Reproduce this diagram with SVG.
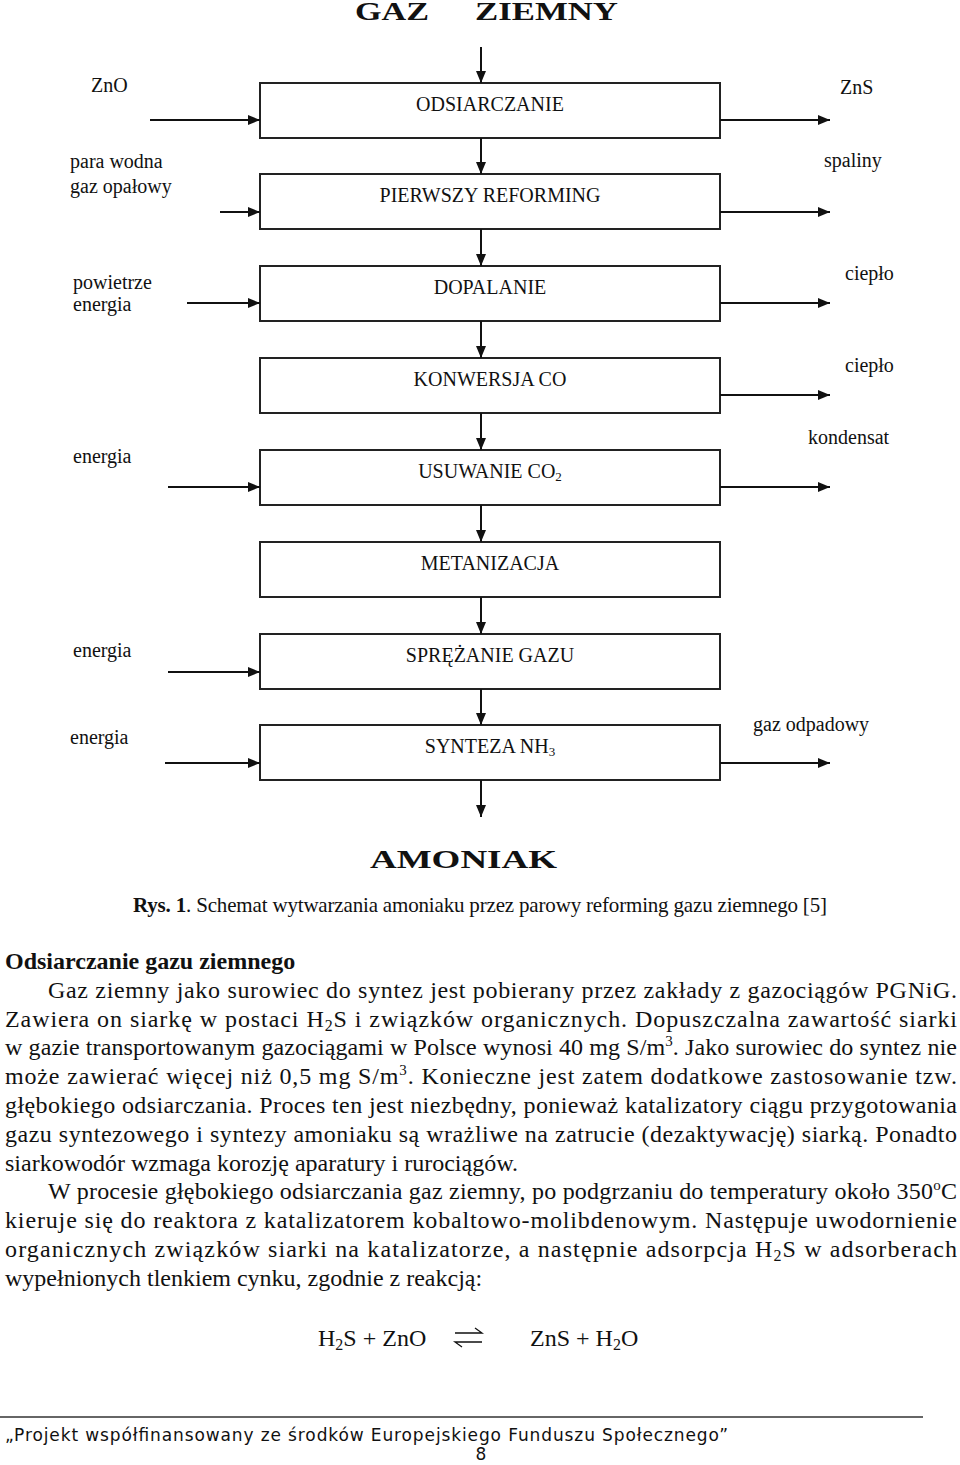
<svg xmlns="http://www.w3.org/2000/svg" width="960" height="1465" viewBox="0 0 960 1465">
<style>
.bg{fill:#fff}
.box{fill:#fff;stroke:#222;stroke-width:2}
.ln{stroke:#111;stroke-width:2;fill:none}
.lbl{font-family:"Liberation Serif","Times New Roman",serif;font-size:20px;fill:#111}
.ctr{text-anchor:middle}
.big{font-family:"Liberation Serif","Times New Roman",serif;font-size:25px;font-weight:bold;fill:#111}
.body{font-family:"Liberation Serif","Times New Roman",serif;font-size:24px;fill:#111}
.cap{font-family:"Liberation Serif","Times New Roman",serif;font-size:21px;fill:#111}
.foot{font-family:"DejaVu Sans","Liberation Sans",sans-serif;font-size:17px;fill:#111}
</style>
<defs>
<marker id="ah" markerUnits="userSpaceOnUse" markerWidth="12" markerHeight="10" refX="12" refY="5" orient="auto">
<path d="M0,0 L12,5 L0,10 z" fill="#111"/>
</marker>
</defs>
<rect class="bg" x="0" y="0" width="960" height="1465"/>

<text class="big" x="355" y="20" textLength="74" lengthAdjust="spacingAndGlyphs">GAZ</text>
<text class="big" x="475" y="20" textLength="143" lengthAdjust="spacingAndGlyphs">ZIEMNY</text>

<g id="n1"><rect class="box" x="260" y="83" width="460" height="55"/><text class="lbl ctr" x="490" y="111">ODSIARCZANIE</text></g>
<g id="n2"><rect class="box" x="260" y="174" width="460" height="55"/><text class="lbl ctr" x="490" y="202">PIERWSZY REFORMING</text></g>
<g id="n3"><rect class="box" x="260" y="266" width="460" height="55"/><text class="lbl ctr" x="490" y="294">DOPALANIE</text></g>
<g id="n4"><rect class="box" x="260" y="358" width="460" height="55"/><text class="lbl ctr" x="490" y="386">KONWERSJA CO</text></g>
<g id="n5"><rect class="box" x="260" y="450" width="460" height="55"/><text class="lbl ctr" x="490" y="478">USUWANIE CO<tspan font-size="13" dy="3">2</tspan></text></g>
<g id="n6"><rect class="box" x="260" y="542" width="460" height="55"/><text class="lbl ctr" x="490" y="570">METANIZACJA</text></g>
<g id="n7"><rect class="box" x="260" y="634" width="460" height="55"/><text class="lbl ctr" x="490" y="662">SPRĘŻANIE GAZU</text></g>
<g id="n8"><rect class="box" x="260" y="725" width="460" height="55"/><text class="lbl ctr" x="490" y="753">SYNTEZA NH<tspan font-size="13" dy="3">3</tspan></text></g>

<g id="labels">
<text class="lbl" x="91" y="92">ZnO</text>
<text class="lbl" x="840" y="94">ZnS</text>
<text class="lbl" x="70" y="168">para wodna</text>
<text class="lbl" x="70" y="193">gaz opałowy</text>
<text class="lbl" x="824" y="167">spaliny</text>
<text class="lbl" x="73" y="289">powietrze</text>
<text class="lbl" x="73" y="311">energia</text>
<text class="lbl" x="845" y="280">ciepło</text>
<text class="lbl" x="845" y="372">ciepło</text>
<text class="lbl" x="808" y="444">kondensat</text>
<text class="lbl" x="73" y="463">energia</text>
<text class="lbl" x="73" y="657">energia</text>
<text class="lbl" x="70" y="744">energia</text>
<text class="lbl" x="753" y="731">gaz odpadowy</text>
</g>

<g id="connectors">
<line class="ln" x1="481" y1="47" x2="481" y2="83" marker-end="url(#ah)"/>
<line class="ln" x1="481" y1="138" x2="481" y2="174" marker-end="url(#ah)"/>
<line class="ln" x1="481" y1="229" x2="481" y2="266" marker-end="url(#ah)"/>
<line class="ln" x1="481" y1="321" x2="481" y2="358" marker-end="url(#ah)"/>
<line class="ln" x1="481" y1="413" x2="481" y2="450" marker-end="url(#ah)"/>
<line class="ln" x1="481" y1="505" x2="481" y2="542" marker-end="url(#ah)"/>
<line class="ln" x1="481" y1="597" x2="481" y2="634" marker-end="url(#ah)"/>
<line class="ln" x1="481" y1="689" x2="481" y2="725" marker-end="url(#ah)"/>
<line class="ln" x1="481" y1="780" x2="481" y2="817" marker-end="url(#ah)"/>

<line class="ln" x1="150" y1="120" x2="260" y2="120" marker-end="url(#ah)"/>
<line class="ln" x1="720" y1="120" x2="830" y2="120" marker-end="url(#ah)"/>
<line class="ln" x1="220" y1="212" x2="260" y2="212" marker-end="url(#ah)"/>
<line class="ln" x1="720" y1="212" x2="830" y2="212" marker-end="url(#ah)"/>
<line class="ln" x1="187" y1="303" x2="260" y2="303" marker-end="url(#ah)"/>
<line class="ln" x1="720" y1="303" x2="830" y2="303" marker-end="url(#ah)"/>
<line class="ln" x1="720" y1="395" x2="830" y2="395" marker-end="url(#ah)"/>
<line class="ln" x1="168" y1="487" x2="260" y2="487" marker-end="url(#ah)"/>
<line class="ln" x1="720" y1="487" x2="830" y2="487" marker-end="url(#ah)"/>
<line class="ln" x1="168" y1="672" x2="260" y2="672" marker-end="url(#ah)"/>
<line class="ln" x1="165" y1="763" x2="260" y2="763" marker-end="url(#ah)"/>
<line class="ln" x1="720" y1="763" x2="830" y2="763" marker-end="url(#ah)"/>
</g>

<text class="big" x="370" y="868" textLength="187" lengthAdjust="spacingAndGlyphs">AMONIAK</text>

<text class="cap" x="133" y="912" textLength="694" lengthAdjust="spacing"><tspan font-weight="bold">Rys. 1</tspan>. Schemat wytwarzania amoniaku przez parowy reforming gazu ziemnego [5]</text>

<g id="body">
<text class="body" x="5" y="969" font-weight="bold">Odsiarczanie gazu ziemnego</text>
<text class="body" x="48" y="998" textLength="909" lengthAdjust="spacing">Gaz ziemny jako surowiec do syntez jest pobierany przez zakłady z gazociągów PGNiG.</text>
<text class="body" x="5" y="1027" textLength="952" lengthAdjust="spacing">Zawiera on siarkę w postaci H<tspan font-size="16" dy="4">2</tspan><tspan dy="-4">S i związków organicznych. Dopuszczalna zawartość siarki</tspan></text>
<text class="body" x="5" y="1055" textLength="952" lengthAdjust="spacing">w gazie transportowanym gazociągami w Polsce wynosi 40 mg S/m<tspan font-size="15" dy="-9">3</tspan><tspan dy="9">. Jako surowiec do syntez nie</tspan></text>
<text class="body" x="5" y="1084" textLength="952" lengthAdjust="spacing">może zawierać więcej niż 0,5 mg S/m<tspan font-size="15" dy="-9">3</tspan><tspan dy="9">. Konieczne jest zatem dodatkowe zastosowanie tzw.</tspan></text>
<text class="body" x="5" y="1113" textLength="952" lengthAdjust="spacing">głębokiego odsiarczania. Proces ten jest niezbędny, ponieważ katalizatory ciągu przygotowania</text>
<text class="body" x="5" y="1142" textLength="952" lengthAdjust="spacing">gazu syntezowego i syntezy amoniaku są wrażliwe na zatrucie (dezaktywację) siarką. Ponadto</text>
<text class="body" x="5" y="1171">siarkowodór wzmaga korozję aparatury i rurociągów.</text>
<text class="body" x="48" y="1199" textLength="909" lengthAdjust="spacing">W procesie głębokiego odsiarczania gaz ziemny, po podgrzaniu do temperatury około 350<tspan font-size="15" dy="-9">o</tspan><tspan dy="9">C</tspan></text>
<text class="body" x="5" y="1228" textLength="952" lengthAdjust="spacing">kieruje się do reaktora z katalizatorem kobaltowo-molibdenowym. Następuje uwodornienie</text>
<text class="body" x="5" y="1257" textLength="952" lengthAdjust="spacing">organicznych związków siarki na katalizatorze, a następnie adsorpcja H<tspan font-size="16" dy="4">2</tspan><tspan dy="-4">S w adsorberach</tspan></text>
<text class="body" x="5" y="1286">wypełnionych tlenkiem cynku, zgodnie z reakcją:</text>
</g>

<g id="equation">
<text class="body" x="318" y="1346">H<tspan font-size="16" dy="4">2</tspan><tspan dy="-4">S + ZnO</tspan></text>
<polyline class="ln" style="stroke-width:1.3" points="455,1333 482,1333 475,1328"/>
<polyline class="ln" style="stroke-width:1.3" points="482,1342 455,1342 462,1347"/>
<text class="body" x="530" y="1346">ZnS + H<tspan font-size="16" dy="4">2</tspan><tspan dy="-4">O</tspan></text>
</g>

<line x1="0" y1="1417" x2="923" y2="1417" stroke="#333" stroke-width="1.5"/>
<text class="foot" x="5" y="1441" textLength="723" lengthAdjust="spacing">„Projekt współfinansowany ze środków Europejskiego Funduszu Społecznego”</text>
<text class="foot" x="481" y="1460" font-size="24" text-anchor="middle">8</text>
</svg>
